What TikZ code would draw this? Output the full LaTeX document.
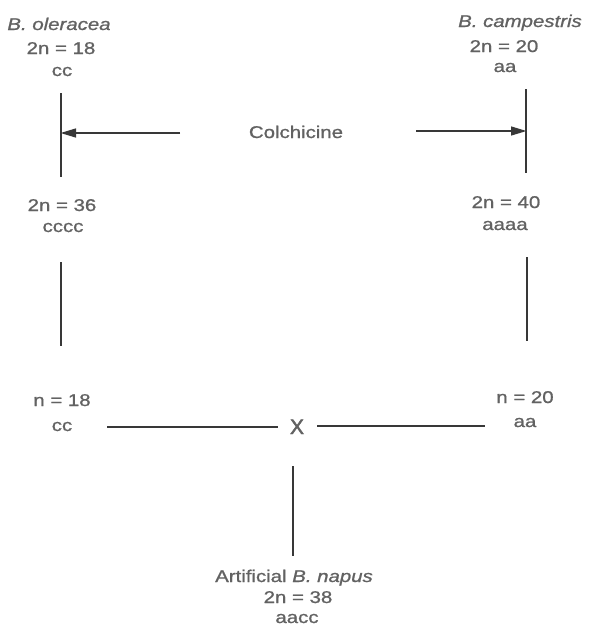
\documentclass[tikz,border=0pt]{standalone}
\usepackage{fontspec}
\setmainfont{Liberation Sans}
\usetikzlibrary{arrows.meta}
\definecolor{txtgray}{HTML}{626262}
\definecolor{linegray}{HTML}{383838}
% slightly heavier faces for the labels
\font\lblrm="Liberation Sans:embolden=0.9" at 17pt
\font\lblit="Liberation Sans/I:embolden=0.9" at 17pt
\font\lblx="Liberation Sans:embolden=2.2" at 21pt
% slightly widened lettering
\newcommand\wtxt[1]{\scalebox{1.2}[1]{#1}}
\tikzset{
  lbl/.style={text=txtgray, font=\lblrm, inner sep=0pt, anchor=base},
  bigx/.style={lbl, font=\lblx},
  stem/.style={draw=linegray, line width=2.8pt},
  feed/.style={draw=linegray, line width=2.8pt, -{Triangle[length=16pt,width=8.5pt]}, shorten >=-1pt}
}
\begin{document}
\begin{tikzpicture}[x=1pt,y=-1pt]
\useasboundingbox (0,0) rectangle (592,632);
\fill[white] (0,0) rectangle (592,632);

% B. oleracea side
\node[lbl] (ole)   at (59,30)  {\wtxt{\lblit B. oleracea}};
\node[lbl] (ole2n) at (61,54)  {\wtxt{2n = 18}};
\node[lbl] (olecc) at (62,76)  {\wtxt{cc}};
\node[lbl] (ole4n) at (62,211) {\wtxt{2n = 36}};
\node[lbl] (ole4c) at (63,232) {\wtxt{cccc}};
\node[lbl] (olen)  at (62,406) {\wtxt{n = 18}};
\node[lbl] (olenc) at (62,431) {\wtxt{cc}};

% B. campestris side
\node[lbl] (cam)   at (520,27) {\wtxt{\lblit B. campestris}};
\node[lbl] (cam2n) at (504,52) {\wtxt{2n = 20}};
\node[lbl] (camaa) at (505,72) {\wtxt{aa}};
\node[lbl] (cam4n) at (506,208){\wtxt{2n = 40}};
\node[lbl] (cam4a) at (505,230){\wtxt{aaaa}};
\node[lbl] (camn)  at (525,403){\wtxt{n = 20}};
\node[lbl] (camna) at (525,427){\wtxt{aa}};

% centre labels
\node[lbl]  (colch) at (296,138) {\wtxt{Colchicine}};
\node[bigx] (cross) at (297,434) {X};
\node[lbl]  (nap)   at (294,582) {\wtxt{Artificial {\lblit B. napus}}};
\node[lbl]  (nap2n) at (298,603) {\wtxt{2n = 38}};
\node[lbl]  (napac) at (297,623) {\wtxt{aacc}};

% end points of the strokes
\coordinate (lA) at (61,93);   \coordinate (lB) at (61,177);
\coordinate (lM) at (61,133);  \coordinate (lF) at (180,133);
\coordinate (lC) at (61,262);  \coordinate (lD) at (61,346);
\coordinate (rA) at (526,89);  \coordinate (rB) at (526,173);
\coordinate (rM) at (526,131); \coordinate (rF) at (416,131);
\coordinate (rC) at (527,257); \coordinate (rD) at (527,341);
\coordinate (xL1) at (107,427); \coordinate (xL2) at (278,427);
\coordinate (xR1) at (317,426); \coordinate (xR2) at (485,426);
\coordinate (bT) at (293,466);  \coordinate (bB) at (293,556);

\draw[stem] (lA) -- (lB);
\draw[feed] (lF) -- (lM);
\draw[stem] (lC) -- (lD);
\draw[stem] (rA) -- (rB);
\draw[feed] (rF) -- (rM);
\draw[stem] (rC) -- (rD);
\draw[stem] (xL1) -- (xL2);
\draw[stem] (xR1) -- (xR2);
\draw[stem] (bT) -- (bB);
\end{tikzpicture}
\end{document}
